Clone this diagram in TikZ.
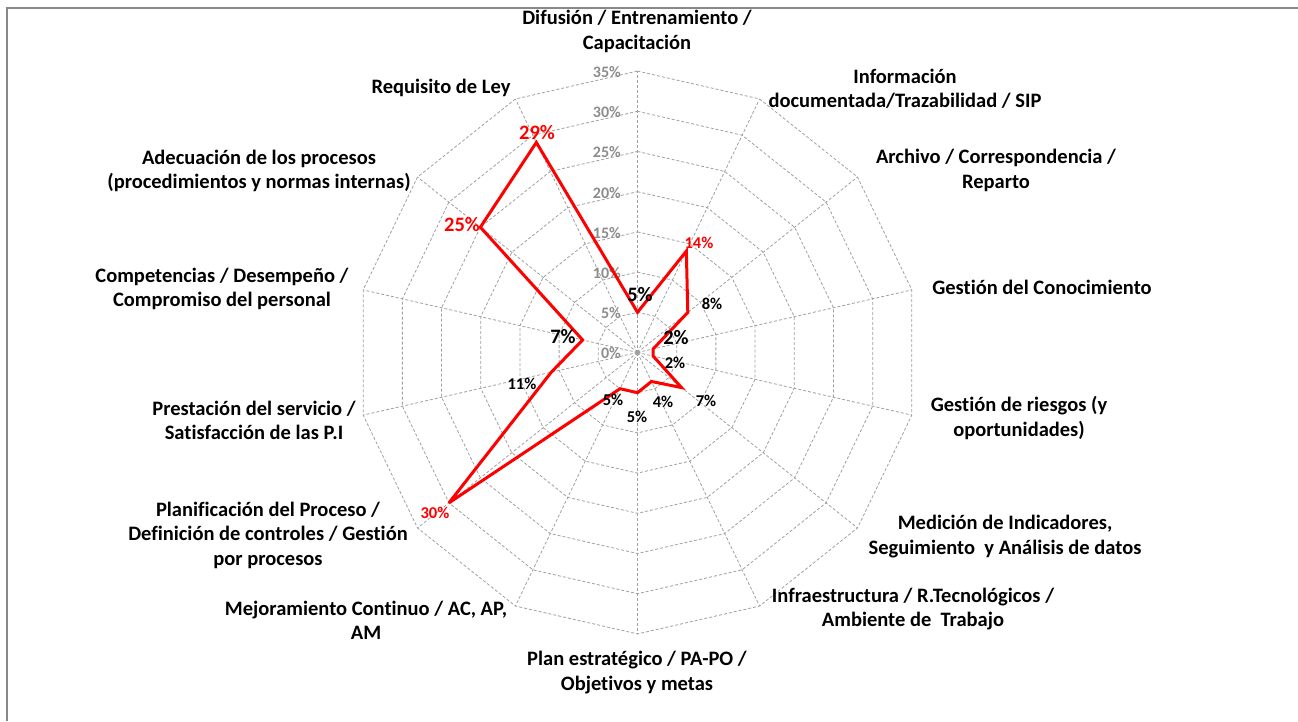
\documentclass[tikz,border=0pt]{standalone}
\usepackage{fontspec}
\setmainfont{Carlito}[Ligatures=NoCommon]
\definecolor{gridgray}{RGB}{160,160,160}
\definecolor{tickgray}{RGB}{140,140,140}
\definecolor{framegray}{RGB}{136,136,136}
\definecolor{datared}{RGB}{255,0,0}
\begin{document}
\begin{tikzpicture}[x=1pt,y=-1pt,
  gridline/.style={draw=gridgray,line width=0.8pt,dash pattern=on 3pt off 2pt},
  cat/.style={inner sep=0pt,align=center,font=\fontsize{20.5}{24.5}\selectfont\bfseries},
  tick/.style={inner sep=0pt,anchor=east,text=tickgray,font=\fontsize{16}{18}\selectfont\bfseries},
  bigval/.style={inner sep=0pt,font=\fontsize{20.5}{22}\selectfont\bfseries},
  smallval/.style={inner sep=0pt,font=\fontsize{16.5}{18}\selectfont\bfseries},
  series/.style={draw=datared,line width=3pt,line join=miter,miter limit=6},
  frameline/.style={draw=framegray,line width=2pt}]
\useasboundingbox (0,0) rectangle (1298,721);
% frame (top and left edges)
\coordinate (fbl) at (6.5,721);
\coordinate (ftl) at (6.5,7.5);
\coordinate (ftr) at (1298,7.5);
\draw[frameline] (fbl) -- (ftl) -- (ftr);
% centre and grid
\coordinate (c) at (637.5,352.5);
\foreach \k in {0,...,13}{
  \foreach \r in {1,...,7}{
    \coordinate (g\k-\r) at ({637.5+\r*40.2*cos(90-\k*360/14)},{352.5-\r*40.2*sin(90-\k*360/14)});
  }
}
\foreach \r in {1,...,7}{
  \draw[gridline] (g0-\r) \foreach \k in {1,...,13}{ -- (g\k-\r)} -- cycle;
}
\foreach \k in {0,...,13}{
  \draw[gridline] (c) -- (g\k-7);
}
\fill[gridgray] (c) circle (2.5);
% tick labels
\foreach \r in {0,...,7}{
  \pgfmathtruncatemacro{\pc}{5*\r}
  \node[tick] (t\r) at (621,{353.5-\r*40.2}) {\pc\%};
}
% data series
\foreach \k/\v in {0/5,1/14,2/8,3/2,4/2,5/7,6/4,7/5,8/5,9/30,10/11,11/7,12/25,13/29}{
  \coordinate (p\k) at ({637.5+\v*8.04*cos(90-\k*360/14)},{352.5-\v*8.04*sin(90-\k*360/14)});
}
\draw[series] (p0) -- (p1) -- (p2) -- (p3) -- (p4) -- (p5) -- (p6) -- (p7) -- (p8) -- (p9) -- (p10) -- (p11) -- (p12) -- (p13) -- cycle;
% data labels
\node[bigval] (v0) at (640,295) {5\%};
\node[smallval,text=datared] (v1) at (699,243) {14\%};
\node[smallval] (v2) at (712,304) {8\%};
\node[bigval] (v3) at (676,338) {2\%};
\node[smallval] (v4) at (675,363) {2\%};
\node[smallval] (v5) at (706,401) {7\%};
\node[smallval] (v6) at (663,402) {4\%};
\node[smallval] (v7) at (637,417) {5\%};
\node[smallval] (v8) at (613,400) {5\%};
\node[smallval,text=datared] (v9) at (435,513) {30\%};
\node[smallval] (v10) at (522,384) {11\%};
\node[bigval] (v11) at (563,337) {7\%};
\node[bigval,text=datared] (v12) at (462,225) {25\%};
\node[bigval,text=datared] (v13) at (537,133) {29\%};
% category labels
\node[cat] (l0) at (637,31.5) {Difusión / Entrenamiento /\\Capacitación};
\node[cat] (l1) at (905,89) {Información\\documentada/Trazabilidad / SIP};
\node[cat] (l2) at (996,170.5) {Archivo / Correspondencia /\\Reparto};
\node[cat] (l3) at (1042,287) {Gestión del Conocimiento};
\node[cat] (l4) at (1019,418) {Gestión de riesgos (y\\oportunidades)};
\node[cat] (l5) at (1005,536.5) {Medición de Indicadores,\\Seguimiento\ \ y Análisis de datos};
\node[cat] (l6) at (913,609) {Infraestructura / R.Tecnológicos /\\Ambiente de\ \ Trabajo};
\node[cat] (l7) at (637,672.5) {Plan estratégico / PA-PO /\\Objetivos y metas};
\node[cat] (l8) at (366,620.5) {Mejoramiento Continuo / AC, AP,\\AM};
\node[cat] (l9) at (268,535) {Planificación del Proceso /\\Definición de controles / Gestión\\por procesos};
\node[cat] (l10) at (254,420.5) {Prestación del servicio /\\Satisfacción de las P.I};
\node[cat] (l11) at (222,289) {Competencias / Desempeño /\\Compromiso del personal};
\node[cat] (l12) at (259,171) {Adecuación de los procesos\\(procedimientos y normas internas)};
\node[cat] (l13) at (441,88) {Requisito de Ley};
\end{tikzpicture}
\end{document}
